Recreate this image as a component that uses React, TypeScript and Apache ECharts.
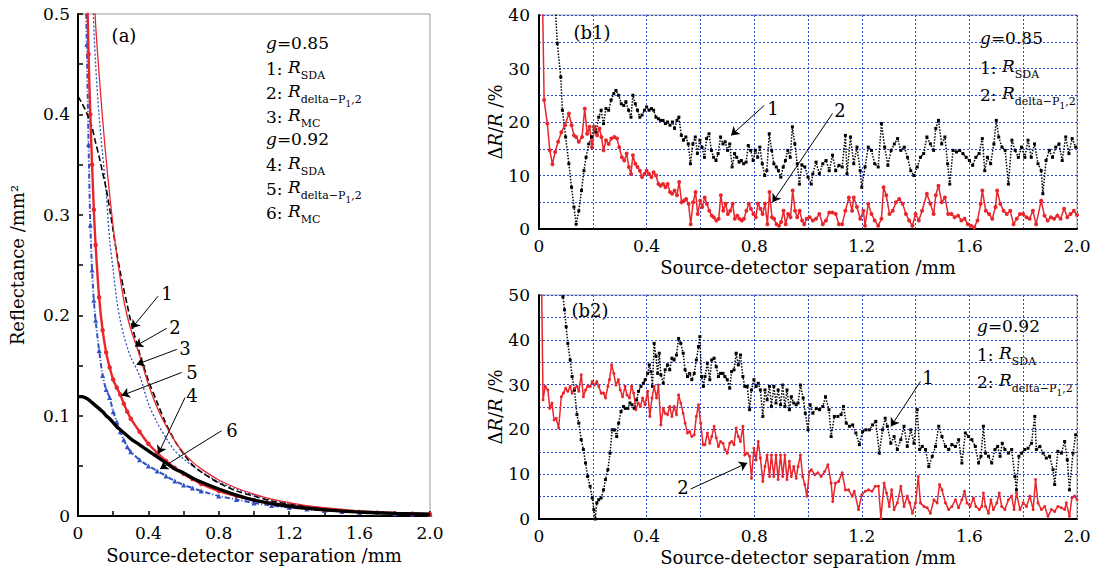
import React, { useEffect, useRef } from 'react';
import * as echarts from 'echarts';

const FONT = '"DejaVu Serif", serif';
const RED = '#e8262b';
const BLUE = '#2f52c4';
const GRIDBLUE = '#2a48d6';

// ---------- panel (a) ----------
const XA = [0, 0.02, 0.04, 0.06, 0.08, 0.1, 0.12, 0.14, 0.16, 0.18, 0.2, 0.22, 0.24, 0.26, 0.28, 0.3, 0.35, 0.4, 0.45, 0.5, 0.55, 0.6, 0.65, 0.7, 0.8, 0.9, 1.0, 1.1, 1.2, 1.3, 1.4, 1.5, 1.6, 1.7, 1.8, 1.9, 2.0];
const a1SDA085 = [0.418, 0.412, 0.405, 0.397, 0.387, 0.372, 0.358, 0.342, 0.326, 0.306, 0.284, 0.262, 0.243, 0.226, 0.21, 0.194, 0.162, 0.135, 0.113, 0.092, 0.075, 0.062, 0.051, 0.044, 0.033, 0.025, 0.02, 0.015, 0.012, 0.0095, 0.0075, 0.006, 0.005, 0.004, 0.0033, 0.0027, 0.0022];
const a2Delta085 = [null, null, null, null, 0.56, 0.49, 0.44, 0.395, 0.355, 0.32, 0.288, 0.26, 0.237, 0.215, 0.199, 0.186, 0.16, 0.131, 0.108, 0.09, 0.075, 0.063, 0.054, 0.047, 0.036, 0.028, 0.022, 0.017, 0.0135, 0.0105, 0.0083, 0.0066, 0.0053, 0.0043, 0.0035, 0.0029, 0.0024];
const a3MC085 = [null, null, null, 0.62, 0.53, 0.45, 0.398, 0.36, 0.322, 0.275, 0.245, 0.215, 0.195, 0.18, 0.168, 0.158, 0.14, 0.112, 0.093, 0.078, 0.065, 0.057, 0.05, 0.044, 0.034, 0.027, 0.021, 0.016, 0.0125, 0.0098, 0.0078, 0.0062, 0.005, 0.004, 0.0033, 0.0027, 0.0022];
const a4SDA092 = [0.119, 0.119, 0.118, 0.116, 0.113, 0.11, 0.107, 0.104, 0.1, 0.097, 0.093, 0.089, 0.086, 0.083, 0.08, 0.077, 0.071, 0.065, 0.059, 0.053, 0.047, 0.043, 0.038, 0.034, 0.027, 0.021, 0.016, 0.0125, 0.0098, 0.0078, 0.0062, 0.005, 0.004, 0.0033, 0.0027, 0.0022, 0.0018];
const X56 = [0.04, 0.05, 0.06, 0.07, 0.08, 0.09, 0.1, 0.12, 0.14, 0.16, 0.18, 0.2, 0.22, 0.24, 0.26, 0.28, 0.3, 0.35, 0.4, 0.45, 0.5, 0.55, 0.6, 0.65, 0.7, 0.8, 0.9, 1.0, 1.1, 1.2, 1.3, 1.4, 1.5, 1.6, 1.7, 1.8, 1.9, 2.0];
const a5Delta092 = [0.62, 0.54, 0.46, 0.4, 0.35, 0.305, 0.27, 0.218, 0.185, 0.163, 0.148, 0.136, 0.128, 0.121, 0.112, 0.104, 0.097, 0.084, 0.072, 0.063, 0.055, 0.048, 0.042, 0.037, 0.032, 0.025, 0.02, 0.016, 0.0125, 0.01, 0.008, 0.0064, 0.0052, 0.0042, 0.0034, 0.0028, 0.0023, 0.0019];
const a6MC092 = [0.56, 0.47, 0.37, 0.29, 0.245, 0.215, 0.195, 0.165, 0.14, 0.126, 0.118, 0.104, 0.094, 0.084, 0.076, 0.069, 0.064, 0.056, 0.05, 0.045, 0.04, 0.035, 0.031, 0.028, 0.025, 0.02, 0.0165, 0.013, 0.0105, 0.0085, 0.007, 0.0057, 0.0047, 0.0039, 0.0032, 0.0027, 0.0022, 0.0018];
// arrows of (a): [fromX, fromY, toX, toY]
const aArrows = [
  [0.455, 0.219, 0.305, 0.187],
  [0.504, 0.187, 0.324, 0.169],
  [0.561, 0.166, 0.333, 0.151],
  [0.589, 0.143, 0.248, 0.12],
  [0.608, 0.118, 0.456, 0.062],
  [0.816, 0.085, 0.466, 0.047],
];

// ---------- panel (b1), g = 0.85 ----------
const b1Delta = [[0.008, 60], [0.019, 24.1], [0.031, 19.7], [0.04, 14.7], [0.05, 12.1], [0.06, 14.4], [0.071, 16.3], [0.083, 18.1], [0.097, 19.4], [0.111, 21.6], [0.121, 19.4], [0.13, 17.5], [0.138, 17.2], [0.148, 16.3], [0.16, 17.2], [0.17, 22.5], [0.179, 17.8], [0.188, 19.1], [0.197, 15.3], [0.207, 19.1], [0.216, 17.5], [0.225, 18.8], [0.232, 17.2], [0.24, 14.7], [0.249, 16.6], [0.259, 15.9], [0.269, 16.9], [0.28, 17.2], [0.29, 16.9], [0.298, 15.3], [0.308, 13.4], [0.317, 12.8], [0.326, 14.1], [0.334, 11.6], [0.342, 10.3], [0.349, 13.8], [0.358, 12.2], [0.366, 11.6], [0.375, 10.9], [0.383, 9.7], [0.392, 10.3], [0.4, 10.9], [0.409, 10.3], [0.418, 9.7], [0.426, 10.6], [0.435, 10], [0.444, 8.4], [0.452, 8.1], [0.461, 8.4], [0.47, 7.8], [0.478, 8.4], [0.487, 6.9], [0.495, 6.6], [0.504, 7.2], [0.513, 6.3], [0.521, 8.8], [0.53, 5], [0.539, 5.3], [0.547, 5.6], [0.556, 4.7], [0.564, 0.9], [0.573, 5], [0.582, 6.9], [0.59, 2.8], [0.599, 5.3], [0.607, 4.1], [0.616, 5.9], [0.624, 4.7], [0.633, 3.4], [0.642, 2.5], [0.65, 2.2], [0.659, 1.6], [0.668, 1.9], [0.676, 6.3], [0.685, 3.4], [0.694, 4.7], [0.702, 2.8], [0.711, 3.4], [0.72, 4.7], [0.728, 1.9], [0.737, 2.5], [0.745, 1.9], [0.754, 1.6], [0.762, 1.9], [0.771, 3.4], [0.78, 4.7], [0.788, 3.8], [0.797, 2.8], [0.806, 2.2], [0.814, 4.7], [0.823, 3.8], [0.831, 2.8], [0.84, 4.7], [0.849, 0.9], [0.857, 6.9], [0.866, 2.2], [0.874, 1.9], [0.883, 0.9], [0.892, 0.6], [0.9, 1.3], [0.909, 3.4], [0.917, 0.9], [0.926, 2.8], [0.935, 2.2], [0.943, 7.2], [0.952, 3.4], [0.96, 2.2], [0.969, 3.4], [0.978, 1.6], [0.986, 0.9], [0.995, 1.9], [1.006, 2.2], [1.018, 1.6], [1.03, 1.9], [1.042, 2.8], [1.055, 0.9], [1.067, 1.6], [1.079, 3.1], [1.091, 3.1], [1.103, 2.8], [1.115, 0.9], [1.127, 0.9], [1.139, 3.4], [1.152, 5.9], [1.164, 3.4], [1.17, 5.9], [1.182, 4.1], [1.194, 1.9], [1.206, 3.4], [1.212, 0.6], [1.224, 4.7], [1.236, 2.8], [1.248, 1.6], [1.261, 0.6], [1.273, 1.9], [1.281, 7.8], [1.291, 6.3], [1.303, 2.8], [1.315, 3.4], [1.327, 5], [1.339, 5.6], [1.352, 4.7], [1.364, 2.8], [1.376, 1.6], [1.388, 0.6], [1.4, 2.8], [1.412, 1.6], [1.424, 3.4], [1.442, 6.6], [1.455, 4.7], [1.467, 2.8], [1.475, 6.3], [1.485, 8.1], [1.497, 5], [1.509, 5.9], [1.521, 2.8], [1.533, 2.8], [1.545, 2.2], [1.558, 2.5], [1.57, 1.6], [1.582, 1.9], [1.594, 0.9], [1.606, 0.6], [1.618, 0.3], [1.63, 1.6], [1.642, 4.7], [1.648, 7.2], [1.661, 3.4], [1.673, 2.8], [1.685, 1.9], [1.697, 4.1], [1.703, 7.2], [1.715, 4.7], [1.727, 3.4], [1.739, 2.8], [1.752, 3.4], [1.764, 0.9], [1.776, 1.9], [1.788, 2.8], [1.8, 2.8], [1.812, 2.2], [1.824, 1.9], [1.836, 3.4], [1.848, 0.9], [1.867, 5.3], [1.879, 2.5], [1.891, 1.6], [1.903, 2.2], [1.915, 1.9], [1.927, 2.5], [1.939, 1.9], [1.952, 3.8], [1.964, 2.2], [1.976, 2.8], [1.988, 3.4], [2.0, 2.6]];
const b1SDA = [[0.058, 44], [0.068, 34.7], [0.081, 28.4], [0.087, 22.2], [0.099, 17.2], [0.111, 12.2], [0.121, 7.8], [0.13, 4.1], [0.138, 0.9], [0.148, 3.4], [0.158, 7.2], [0.167, 10.9], [0.175, 13.4], [0.185, 15.9], [0.195, 17.2], [0.204, 19.1], [0.212, 18.1], [0.222, 20.9], [0.231, 22.2], [0.24, 19.7], [0.249, 22.5], [0.259, 22.2], [0.268, 24.1], [0.278, 25.3], [0.286, 25.9], [0.296, 25], [0.306, 23.4], [0.315, 23.1], [0.323, 23.8], [0.333, 22.2], [0.342, 20.9], [0.349, 25], [0.358, 23.4], [0.366, 22.2], [0.375, 20.9], [0.383, 21.3], [0.392, 22.2], [0.4, 22.8], [0.409, 22.2], [0.418, 22.5], [0.426, 22.2], [0.435, 20.9], [0.444, 20.6], [0.452, 20.3], [0.461, 20.3], [0.47, 19.7], [0.478, 20], [0.487, 19.4], [0.496, 20], [0.504, 18.8], [0.513, 20.3], [0.52, 20.9], [0.529, 17.5], [0.537, 16.6], [0.546, 17.2], [0.555, 15.9], [0.563, 12.2], [0.572, 15.9], [0.581, 17.2], [0.589, 14.1], [0.598, 16.6], [0.606, 15.3], [0.615, 13.4], [0.623, 16.9], [0.632, 17.8], [0.641, 14.7], [0.649, 13.4], [0.658, 12.8], [0.666, 14.1], [0.675, 17.2], [0.684, 15.9], [0.692, 16.3], [0.701, 14.7], [0.709, 15.9], [0.718, 11.6], [0.727, 14.1], [0.735, 13.4], [0.744, 12.5], [0.752, 12.8], [0.761, 12.2], [0.77, 12.5], [0.778, 15.6], [0.787, 14.7], [0.796, 12.8], [0.804, 14.7], [0.813, 13.4], [0.821, 15.3], [0.83, 12.2], [0.839, 10], [0.847, 10.9], [0.856, 17.8], [0.865, 14.7], [0.873, 12.2], [0.882, 11.6], [0.89, 10.9], [0.899, 9.7], [0.908, 11.6], [0.916, 12.8], [0.925, 14.7], [0.934, 13.4], [0.942, 19.1], [0.951, 15.9], [0.96, 12.2], [0.968, 8.4], [0.977, 12], [0.988, 11.6], [1.0, 9.7], [1.012, 8.4], [1.018, 10.3], [1.03, 12.5], [1.042, 10.3], [1.055, 12.2], [1.067, 12.8], [1.079, 10.9], [1.091, 13.8], [1.103, 10.9], [1.115, 11.9], [1.127, 11.6], [1.139, 17.5], [1.145, 10.3], [1.158, 17.2], [1.17, 12.2], [1.182, 15.3], [1.194, 10.9], [1.2, 7.8], [1.212, 11.6], [1.224, 15.3], [1.236, 14.7], [1.248, 12.2], [1.261, 11.6], [1.273, 19.7], [1.285, 15.3], [1.297, 11.9], [1.309, 14.7], [1.321, 15.9], [1.333, 16.9], [1.345, 14.7], [1.358, 15.3], [1.37, 13.4], [1.382, 10.9], [1.394, 10], [1.406, 11.6], [1.418, 13.4], [1.43, 14.1], [1.442, 17.2], [1.455, 15.9], [1.467, 14.7], [1.475, 18.8], [1.485, 20.3], [1.497, 15.9], [1.509, 17.2], [1.519, 12.2], [1.527, 8.4], [1.539, 14.7], [1.552, 14.4], [1.564, 14.7], [1.576, 14.1], [1.588, 13.4], [1.6, 12.8], [1.612, 11.9], [1.624, 13.4], [1.636, 14.1], [1.648, 16.9], [1.657, 10.9], [1.667, 13.4], [1.679, 12.2], [1.691, 15.9], [1.7, 20.3], [1.709, 17.2], [1.721, 15.3], [1.733, 14.7], [1.745, 8.4], [1.758, 16.6], [1.77, 14.7], [1.782, 13.4], [1.794, 15.3], [1.806, 13.4], [1.818, 16.6], [1.83, 13.4], [1.842, 15.9], [1.855, 12.2], [1.867, 10.9], [1.873, 6.6], [1.885, 12.8], [1.897, 14.7], [1.909, 13.4], [1.921, 15.3], [1.933, 15.9], [1.945, 12.8], [1.958, 17.2], [1.97, 14.1], [1.982, 16.9], [1.995, 15.3]];
const b1Arrows = [
  [0.8375, 23.1, 0.714, 17.5],
  [1.091, 21.6, 0.868, 5.0],
];

// ---------- panel (b2), g = 0.92 ----------
const b2Delta = [[0.008, 60], [0.015, 26.6], [0.023, 29.6], [0.033, 28.8], [0.04, 24.7], [0.048, 25.9], [0.056, 22.1], [0.064, 22.5], [0.073, 20.3], [0.083, 27.3], [0.091, 28.1], [0.099, 29.2], [0.107, 28.5], [0.116, 29.6], [0.123, 28.1], [0.132, 29.2], [0.141, 29.6], [0.148, 28.5], [0.157, 32.2], [0.165, 27.3], [0.173, 28.8], [0.181, 29.6], [0.19, 29.6], [0.198, 30.7], [0.206, 29.9], [0.215, 30.7], [0.222, 29.6], [0.231, 28.1], [0.24, 28.1], [0.247, 27], [0.256, 29.6], [0.262, 31.1], [0.27, 34.4], [0.278, 32.5], [0.286, 29.9], [0.295, 31.1], [0.302, 28.8], [0.311, 27.3], [0.32, 29.6], [0.327, 27.7], [0.336, 27], [0.344, 29.6], [0.352, 28.1], [0.36, 24.4], [0.369, 25.9], [0.377, 25.1], [0.385, 27], [0.394, 25.5], [0.404, 28.5], [0.412, 22.9], [0.42, 27], [0.428, 29.6], [0.437, 27], [0.444, 29.9], [0.453, 21], [0.462, 24.7], [0.469, 23.6], [0.478, 23.3], [0.486, 25.1], [0.494, 22.9], [0.502, 25.1], [0.511, 23.3], [0.519, 27.7], [0.527, 25.9], [0.536, 23.6], [0.543, 21.4], [0.552, 19.2], [0.56, 19.5], [0.568, 18.4], [0.577, 18.8], [0.585, 22.9], [0.593, 25.5], [0.601, 21.4], [0.61, 16.6], [0.617, 16.6], [0.626, 19.2], [0.635, 16.9], [0.642, 18.4], [0.651, 20.7], [0.659, 18.1], [0.667, 16.2], [0.675, 17.3], [0.684, 16.9], [0.691, 15.5], [0.7, 14.7], [0.709, 16.9], [0.716, 17.3], [0.725, 16.6], [0.733, 20.3], [0.741, 18.4], [0.749, 17.3], [0.758, 20.7], [0.765, 14.3], [0.774, 14.7], [0.783, 14], [0.79, 9.1], [0.799, 15.8], [0.807, 13.2], [0.815, 17.3], [0.823, 13.6], [0.832, 8.4], [0.84, 11.7], [0.848, 14.3], [0.857, 9.5], [0.864, 14.3], [0.873, 9.5], [0.881, 14.3], [0.889, 8.8], [0.898, 14.3], [0.906, 9.5], [0.914, 14.3], [0.922, 8.8], [0.931, 12.9], [0.938, 9.5], [0.947, 11.7], [0.956, 9.1], [0.963, 11.7], [0.972, 14.3], [0.98, 9.5], [0.988, 7.7], [0.996, 5.1], [1.005, 10.6], [1.012, 11], [1.025, 9.9], [1.037, 10.3], [1.049, 9.5], [1.062, 10.6], [1.074, 12.1], [1.086, 8], [1.092, 3.9], [1.102, 8], [1.114, 8.4], [1.127, 10.3], [1.139, 6.5], [1.151, 6.5], [1.164, 5.1], [1.172, 6.2], [1.188, 2.1], [1.2, 5.4], [1.213, 6.2], [1.225, 6.5], [1.238, 6.2], [1.25, 7.3], [1.262, 7.3], [1.271, 0.2], [1.283, 8], [1.292, 5.8], [1.302, 2.8], [1.311, 6.5], [1.32, 2.1], [1.332, 3.6], [1.345, 7.3], [1.357, 2.8], [1.369, 5.1], [1.378, 3.6], [1.388, 1.3], [1.4, 3.6], [1.41, 9.5], [1.418, 3.6], [1.431, 2.8], [1.443, 2.5], [1.455, 1.3], [1.468, 4.3], [1.48, 3.6], [1.489, 7.7], [1.498, 6.5], [1.511, 3.6], [1.523, 2.1], [1.535, 2.8], [1.548, 4.3], [1.56, 2.5], [1.572, 4.3], [1.582, 6.2], [1.591, 3.6], [1.603, 2.8], [1.615, 4.7], [1.624, 2.8], [1.637, 2.1], [1.646, 2.8], [1.652, 5.8], [1.66, 2.8], [1.671, 1.3], [1.68, 4.3], [1.689, 2.1], [1.702, 3.6], [1.711, 5.8], [1.72, 2.8], [1.732, 2.1], [1.745, 4.3], [1.757, 5.1], [1.766, 2.1], [1.775, 5.8], [1.788, 2.1], [1.8, 3.6], [1.812, 2.8], [1.825, 5.1], [1.837, 2.1], [1.846, 8.8], [1.855, 3.6], [1.868, 2.1], [1.88, 2.8], [1.892, 0.6], [1.905, 2.1], [1.917, 1.7], [1.929, 2.8], [1.942, 2.5], [1.954, 2.1], [1.96, 3.6], [1.972, 0.6], [1.981, 4.7], [1.991, 5.1], [2.0, 4.3]];
const b2SDA = [[0.085, 52], [0.089, 49.6], [0.095, 46.7], [0.101, 42.9], [0.107, 39.2], [0.116, 35.5], [0.123, 31.8], [0.132, 28.8], [0.141, 23.3], [0.148, 21.4], [0.157, 17.7], [0.165, 15.5], [0.173, 12.5], [0.181, 9.5], [0.19, 7.3], [0.198, 4.7], [0.204, 2.1], [0.209, 0], [0.215, 3.6], [0.222, 4.3], [0.231, 4.7], [0.24, 6.5], [0.247, 8.8], [0.256, 11], [0.264, 14.7], [0.272, 19.9], [0.28, 19.9], [0.289, 18.4], [0.296, 21.4], [0.305, 24], [0.314, 25.1], [0.321, 24.7], [0.33, 24.7], [0.338, 25.9], [0.346, 25.5], [0.354, 24.7], [0.363, 26.6], [0.37, 28.5], [0.379, 29.6], [0.388, 30.3], [0.395, 31.1], [0.404, 32.5], [0.41, 34.4], [0.416, 32.9], [0.422, 29.6], [0.428, 39.2], [0.435, 36.3], [0.441, 32.5], [0.447, 37], [0.453, 32.2], [0.462, 30.3], [0.469, 33.3], [0.478, 34.4], [0.486, 33.3], [0.494, 35.9], [0.502, 35.5], [0.511, 36.6], [0.519, 40.3], [0.527, 39.2], [0.536, 37], [0.543, 33.3], [0.552, 31.8], [0.56, 32.5], [0.568, 31.1], [0.577, 32.5], [0.585, 35.5], [0.593, 38.5], [0.598, 40.7], [0.604, 31.8], [0.611, 29.6], [0.617, 31.8], [0.626, 34.8], [0.635, 31.1], [0.642, 35.5], [0.651, 35.9], [0.659, 34], [0.667, 31.8], [0.675, 32.5], [0.684, 32.5], [0.691, 31.8], [0.7, 31.1], [0.709, 29.2], [0.716, 32.9], [0.725, 33.3], [0.733, 37], [0.741, 34.4], [0.749, 36.6], [0.758, 31.8], [0.765, 29.6], [0.774, 29.6], [0.783, 24.4], [0.79, 28.8], [0.799, 31.1], [0.807, 29.6], [0.815, 30.3], [0.823, 28.8], [0.832, 22.9], [0.84, 28.8], [0.848, 26.6], [0.857, 29.6], [0.864, 25.1], [0.873, 29.6], [0.881, 25.9], [0.889, 28.8], [0.898, 25.5], [0.906, 29.9], [0.914, 25.1], [0.922, 28.8], [0.931, 24.4], [0.938, 27.3], [0.947, 25.9], [0.956, 25.5], [0.963, 25.9], [0.972, 29.9], [0.982, 27], [0.99, 23.6], [1.0, 19.9], [1.008, 25.5], [1.018, 23.6], [1.031, 24.7], [1.043, 24.4], [1.055, 25.1], [1.065, 27.3], [1.078, 24.4], [1.086, 18.4], [1.098, 22.9], [1.111, 22.9], [1.123, 23.3], [1.132, 25.1], [1.142, 21.4], [1.154, 20.7], [1.166, 21], [1.178, 19.2], [1.191, 16.6], [1.203, 19.5], [1.215, 19.9], [1.228, 19.9], [1.24, 21], [1.252, 21.8], [1.265, 14.7], [1.277, 19.9], [1.287, 22.5], [1.295, 20.7], [1.308, 16.9], [1.32, 18.4], [1.332, 15.5], [1.345, 17.7], [1.357, 20.7], [1.369, 16.2], [1.382, 19.9], [1.394, 16.9], [1.406, 24.4], [1.415, 15.5], [1.425, 16.2], [1.437, 15.5], [1.449, 11.7], [1.462, 14], [1.474, 16.2], [1.486, 20.7], [1.498, 18.4], [1.511, 16.2], [1.523, 15.5], [1.535, 16.6], [1.548, 16.2], [1.56, 17.7], [1.572, 12.5], [1.585, 19.2], [1.597, 18.4], [1.609, 17.7], [1.622, 16.2], [1.634, 12.5], [1.643, 14], [1.652, 20.7], [1.66, 14.7], [1.671, 14], [1.683, 12.5], [1.695, 15.5], [1.705, 16.2], [1.714, 14], [1.722, 16.9], [1.732, 15.5], [1.745, 14.7], [1.757, 15.5], [1.769, 9.5], [1.775, 6.5], [1.784, 14], [1.794, 14.7], [1.806, 15.5], [1.818, 15.8], [1.831, 16.9], [1.843, 22.9], [1.849, 15.5], [1.862, 16.2], [1.874, 14.7], [1.886, 13.6], [1.898, 14], [1.911, 11], [1.917, 7.7], [1.929, 15.1], [1.942, 14.7], [1.954, 17.3], [1.964, 13.2], [1.972, 6.5], [1.985, 14.7], [1.995, 18.8]];
const b2Arrows = [
  [1.418, 30.7, 1.308, 20.65],
  [0.564, 6.7, 0.774, 12.5],
];

const X_TITLE = 'Source-detector separation /mm';

const zip = (xs: number[], ys: (number | null)[]) => xs.map((x, i) => [x, ys[i]]);

const fmtX = (v: number) => {
  const k = Math.round(v * 10);
  if (k % 4 !== 0) return '';
  return k === 0 ? '0' : (k / 10).toFixed(1);
};
const fmtYa = (v: number) => {
  const k = Math.round(v * 100);
  if (k % 10 !== 0) return '';
  return k === 0 ? '0' : (k / 100).toFixed(1);
};
const fmtYb = (v: number) => (Math.round(v) % 10 === 0 ? String(Math.round(v)) : '');

const labelStyle = { fontFamily: FONT, fontSize: 17, color: '#000' };
const nameStyle = { fontFamily: FONT, fontSize: 18, color: '#000' };

const arrowLine = (arr: number[][]) => ({
  silent: true,
  symbol: ['none', 'arrow'],
  symbolSize: 8,
  label: { show: false },
  lineStyle: { color: '#000', width: 1, type: 'solid' },
  itemStyle: { color: '#000' },
  emphasis: { disabled: true },
  data: arr.map((a) => [{ coord: [a[0], a[1]] }, { coord: [a[2], a[3]] }]),
});

const rich = {
  i: { fontFamily: FONT, fontSize: 17, lineHeight: 22, verticalAlign: 'top', fontStyle: 'italic', fill: '#000' },
  n: { fontFamily: FONT, fontSize: 17, lineHeight: 22, verticalAlign: 'top', fill: '#000' },
  s: { fontFamily: FONT, fontSize: 11, lineHeight: 12, padding: [12, 0, 0, 0], verticalAlign: 'top', fill: '#000' },
  ss: { fontFamily: FONT, fontSize: 9, lineHeight: 10, padding: [17, 0, 0, 0], verticalAlign: 'top', fill: '#000' },
};

let gid = 0;
const richText = (x: number, yc: number, text: string) => ({
  type: 'text',
  id: 'lg' + gid++,
  x,
  y: yc - 11,
  silent: true,
  style: { text, rich, verticalAlign: 'top', align: 'left', fill: '#000', fontFamily: FONT, fontSize: 17 },
});
const plainText = (x: number, y: number, text: string, size = 18, align = 'center') => ({
  type: 'text',
  id: 'pt' + gid++,
  x,
  y,
  silent: true,
  style: { text, fontFamily: FONT, fontSize: size, fill: '#000', align, verticalAlign: 'middle' },
});
// numbered legend row: "N:" as plain text, then rich R with subscript
const numRow = (x: number, yc: number, num: string, body: string) => [
  plainText(x, yc, num + ':', 17, 'left'),
  richText(x + 22, yc, body),
];

const SDA = '{i|R}{s|SDA}';
const DEL = '{i|R}{s|delta\u2212P}{ss|1}{s|,2}';
const MC = '{i|R}{s|MC}';
const gRow = (x: number, yc: number, g: string) => richText(x, yc, '{i|g}{n|=' + g + '}');

export default function App() {
  const ref = useRef<HTMLDivElement>(null);
  useEffect(() => {
    if (!ref.current) return;
    const chart = echarts.init(ref.current, undefined, { renderer: 'svg' });

    const xAxisBase = (gridIndex: number, withTicks: boolean, split: boolean) => ({
      type: 'value',
      gridIndex,
      min: 0,
      max: 2,
      interval: 0.2,
      name: X_TITLE,
      nameLocation: 'middle',
      nameGap: 29,
      nameTextStyle: nameStyle,
      axisLine: { show: true, onZero: false, lineStyle: { color: '#000', width: 2 } },
      axisTick: { show: withTicks, inside: true, length: 5, lineStyle: { color: '#000', width: 1.5 } },
      axisLabel: { ...labelStyle, margin: 8, formatter: fmtX, showMinLabel: true, showMaxLabel: true },
      splitLine: { show: split, lineStyle: { color: GRIDBLUE, type: [2, 2], width: 1 } },
    });

    const yNameB = '{n|\u0394}{i|R}{n|/}{i|R}{n| /%}';
    const yRich = {
      n: { fontFamily: FONT, fontSize: 18, color: '#000' },
      i: { fontFamily: FONT, fontSize: 18, fontStyle: 'italic', color: '#000' },
    };
    const yAxisB = (gridIndex: number, max: number) => ({
      type: 'value', gridIndex, min: 0, max, interval: 5,
      name: yNameB, nameLocation: 'middle', nameGap: 30, nameTextStyle: { ...nameStyle, rich: yRich },
      axisLine: { show: true, onZero: false, lineStyle: { color: '#000', width: 2 } },
      axisTick: { show: false },
      axisLabel: { ...labelStyle, margin: 9, formatter: fmtYb },
      splitLine: { show: true, lineStyle: { color: GRIDBLUE, type: [2, 2], width: 1 } },
    });

    const option: any = {
      animation: false,
      backgroundColor: '#fff',
      grid: [
        { left: 78, top: 14, width: 352, height: 505, show: true, borderColor: '#999', borderWidth: 1 },
        { left: 539, top: 15, width: 538, height: 214, show: true, borderColor: '#999', borderWidth: 1 },
        { left: 539, top: 295, width: 538, height: 224, show: true, borderColor: '#999', borderWidth: 1 },
      ],
      xAxis: [xAxisBase(0, true, false), xAxisBase(1, false, true), xAxisBase(2, false, true)],
      yAxis: [
        {
          type: 'value', gridIndex: 0, min: 0, max: 0.5, interval: 0.05,
          name: 'Reflectance /mm\u00b2', nameLocation: 'middle', nameGap: 52, nameTextStyle: nameStyle,
          axisLine: { show: true, onZero: false, lineStyle: { color: '#000', width: 2 } },
          axisTick: { show: true, inside: true, length: 5, lineStyle: { color: '#000', width: 1.5 } },
          axisLabel: { ...labelStyle, margin: 8, formatter: fmtYa },
          splitLine: { show: false },
        },
        yAxisB(1, 40),
        yAxisB(2, 50),
      ],
      series: [
        // panel (a)
        {
          name: '1', type: 'line', xAxisIndex: 0, yAxisIndex: 0, data: zip(XA, a1SDA085), symbol: 'none',
          smooth: 0.3, lineStyle: { color: '#000', width: 1.6, type: [6, 3] }, z: 4,
          markLine: arrowLine(aArrows),
        },
        {
          name: '2', type: 'line', xAxisIndex: 0, yAxisIndex: 0, data: zip(XA, a2Delta085), symbol: 'none',
          smooth: 0.3, lineStyle: { color: RED, width: 1.3 }, z: 4,
        },
        {
          name: '3', type: 'line', xAxisIndex: 0, yAxisIndex: 0, data: zip(XA, a3MC085), symbol: 'none',
          smooth: 0.3, lineStyle: { color: BLUE, width: 1.3, type: [2, 2] }, z: 3,
        },
        {
          name: '4', type: 'line', xAxisIndex: 0, yAxisIndex: 0, data: zip(XA, a4SDA092), symbol: 'none',
          smooth: 0.3, lineStyle: { color: '#000', width: 3.4 }, z: 5,
        },
        {
          name: '5', type: 'line', xAxisIndex: 0, yAxisIndex: 0, data: zip(X56, a5Delta092), symbol: 'circle', symbolSize: 4.5,
          smooth: 0.3, itemStyle: { color: RED }, lineStyle: { color: RED, width: 2.4 }, z: 4,
        },
        {
          name: '6', type: 'line', xAxisIndex: 0, yAxisIndex: 0, data: zip(X56, a6MC092), symbol: 'triangle', symbolSize: 5,
          smooth: 0.3, itemStyle: { color: BLUE }, lineStyle: { color: BLUE, width: 2, type: [5, 2, 1, 2] }, z: 3,
        },
        // panel (b1)
        {
          type: 'line', xAxisIndex: 1, yAxisIndex: 1, data: b1SDA, symbol: 'rect', symbolSize: 3,
          itemStyle: { color: '#000' }, lineStyle: { color: '#000', width: 1.5, type: 'dotted' },
          markLine: arrowLine(b1Arrows),
        },
        {
          type: 'line', xAxisIndex: 1, yAxisIndex: 1, data: b1Delta, symbol: 'circle', symbolSize: 4,
          itemStyle: { color: RED }, lineStyle: { color: RED, width: 1.5 },
        },
        // panel (b2)
        {
          type: 'line', xAxisIndex: 2, yAxisIndex: 2, data: b2SDA, symbol: 'rect', symbolSize: 3,
          itemStyle: { color: '#000' }, lineStyle: { color: '#000', width: 1.5, type: 'dotted' },
          markLine: arrowLine(b2Arrows),
        },
        {
          type: 'line', xAxisIndex: 2, yAxisIndex: 2, data: b2Delta, symbol: 'circle', symbolSize: 3,
          itemStyle: { color: RED }, lineStyle: { color: RED, width: 1.5 },
        },
      ],
      graphic: [
        plainText(124, 35, '(a)'),
        plainText(592, 32, '(b1)'),
        plainText(590, 310, '(b2)'),
        // (a) curve numbers
        plainText(167, 293, '1'),
        plainText(175, 327, '2'),
        plainText(185, 348, '3'),
        plainText(192, 372, '5'),
        plainText(192, 395, '4'),
        plainText(232, 430, '6'),
        // (b) curve numbers
        plainText(773, 108, '1'),
        plainText(840, 110, '2'),
        plainText(928, 377, '1'),
        plainText(683, 487, '2'),
        // (a) legend
        gRow(266, 45, '0.85'),
        ...numRow(266, 69, '1', SDA),
        ...numRow(266, 93, '2', DEL),
        ...numRow(266, 117, '3', MC),
        gRow(266, 141, '0.92'),
        ...numRow(266, 165, '4', SDA),
        ...numRow(266, 189, '5', DEL),
        ...numRow(266, 213, '6', MC),
        // (b1) legend
        gRow(980, 40, '0.85'),
        ...numRow(980, 68, '1', SDA),
        ...numRow(980, 95, '2', DEL),
        // (b2) legend
        gRow(977, 328, '0.92'),
        ...numRow(977, 355, '1', SDA),
        ...numRow(977, 382, '2', DEL),
      ],
    };

    chart.setOption(option);
    return () => chart.dispose();
  }, []);

  return <div ref={ref} style={{ position: 'absolute', left: 0, top: 0, width: 1105, height: 569, background: '#fff' }} />;
}
